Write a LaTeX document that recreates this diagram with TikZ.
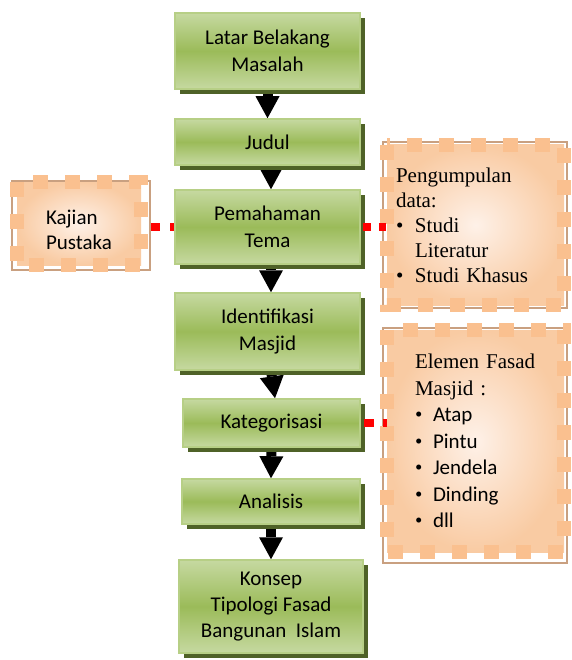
\documentclass[tikz,border=0pt]{standalone}
\usepackage{fontspec}
\setmainfont{Liberation Serif}
\newfontfamily\calib{Carlito}
\usetikzlibrary{arrows.meta,shadows,backgrounds}
\definecolor{gtop}{HTML}{C6D9A1}
\definecolor{gmid}{HTML}{9BBB59}
\definecolor{gline}{HTML}{B7CF86}
\definecolor{gshadow}{HTML}{4F6228}
\definecolor{odashc}{HTML}{FAC08F}
\definecolor{oin}{HTML}{FEF1E8}
\definecolor{oout}{HTML}{F9CBA3}
\definecolor{obrown}{HTML}{C9A080}
\begin{document}
\begin{tikzpicture}[x=1pt,y=-1pt,
  gbox/.style={rectangle, inner sep=0pt, draw=gline, line width=1.5pt,
    top color=gtop, bottom color=gtop, middle color=gmid,
    drop shadow={shadow xshift=5pt, shadow yshift=-5pt, fill=gshadow, opacity=1},
    align=center, font=\calib\fontsize{21pt}{27pt}\selectfont},
  obox/.style={rectangle, inner ysep=0pt, inner color=oin, outer color=oout, align=left},
  obrownline/.style={draw=obrown, line width=2.5pt},
  odashline/.style={draw=odashc, line width=14pt, dash pattern=on 15pt off 17pt},
  blk/.style={line width=10pt, -{Triangle[length=22pt,width=24pt,line width=0pt]}},
  redc/.style={draw=red, line width=8pt}
]
\useasboundingbox (0,0) rectangle (571,660);

% orange boxes
\node[obox, minimum width=124pt, minimum height=83pt, inner xsep=0pt,
  font=\calib\fontsize{21pt}{25pt}\selectfont] (kp) at (79,223.5)
  {\raisebox{-14pt}[0pt][0pt]{\begin{tabular}{@{}l@{}}Kajian\\Pustaka\end{tabular}}};
\draw[obrownline] ([xshift=-5pt,yshift=1pt]kp.north west) rectangle ([xshift=9pt,yshift=-5pt]kp.south east);
\draw[odashline] (kp.north west) rectangle (kp.south east);

\node[obox, minimum width=177pt, minimum height=160pt, inner xsep=9pt, text width=159pt,
  font=\fontsize{21pt}{25pt}\selectfont] (pd) at (475.5,225)
  {Pengumpulan\\data:\\\makebox[19pt][l]{\textbullet}Studi\\\hspace*{19pt}Literatur\\\makebox[19pt][l]{\textbullet}Studi Khasus};
\draw[obrownline] ([xshift=-4pt,yshift=3pt]pd.north west) rectangle ([xshift=3pt,yshift=-3pt]pd.south east);
\draw[odashline] (pd.north west) rectangle (pd.south east);

\node[obox, minimum width=177pt, minimum height=222pt, inner xsep=28pt, text width=121pt,
  font=\fontsize{21pt}{26.5pt}\selectfont] (ef) at (475.5,441)
  {Elemen Fasad\\Masjid :\\
   \makebox[18pt][l]{\textbullet}{\calib Atap}\\
   \makebox[18pt][l]{\textbullet}{\calib Pintu}\\
   \makebox[18pt][l]{\textbullet}{\calib Jendela}\\
   \makebox[18pt][l]{\textbullet}{\calib Dinding}\\
   \makebox[18pt][l]{\textbullet}{\calib dll}};
\draw[obrownline] ([xshift=-4pt,yshift=2pt]ef.north west) rectangle ([xshift=3pt,yshift=-11pt]ef.south east);
\draw[odashline] (ef.north west) rectangle (ef.south east);

% green boxes
\node[gbox, minimum width=185pt, minimum height=76pt] (b1) at (267.5,51) {Latar Belakang\\Masalah};
\node[gbox, minimum width=185pt, minimum height=46pt] (b2) at (267.5,142) {Judul};
\node[gbox, minimum width=185pt, minimum height=74pt] (b3) at (267.5,227) {Pemahaman\\Tema};
\node[gbox, minimum width=185pt, minimum height=77pt] (b4) at (267.5,331.5) {Identifikasi\\Masjid};
\node[gbox, minimum width=177pt, minimum height=48pt] (b5) at (271.5,423) {Kategorisasi};
\node[gbox, minimum width=178pt, minimum height=45pt] (b6) at (271,501.5) {Analisis};
\node[gbox, minimum width=184pt, minimum height=93pt, font=\calib\fontsize{21pt}{26pt}\selectfont] (b7) at (271,606.5) {Konsep\\Tipologi Fasad\\Bangunan~ Islam};

% arrows and hidden connector parts
\begin{pgfonlayer}{background}
\draw[blk] (b1.south) -- (b2.north);
\draw[blk] ([xshift=3.5pt]b2.south) -- ([xshift=3.5pt]b3.north);
\draw[blk] ([xshift=3.5pt]b3.south) -- ([xshift=3.5pt]b4.north);
\draw[blk] ([xshift=3.5pt]b4.south) -- ([xshift=3.5pt]b5.north);
\draw[blk] (b5.south) -- (b6.north);
\draw[blk] (b6.south) -- (b7.north);
\draw[redc, dash pattern=on 9pt off 10pt, shorten <=10pt] (kp.east |- b3.west) -- (b3.west);
\end{pgfonlayer}

% red dotted connectors
\draw[redc, dash pattern=on 8pt off 8pt, shorten <=2pt, shorten >=1pt] (b3.east) -- (pd.west |- b3.east);
\draw[redc, dash pattern=on 10pt off 9pt, shorten <=3pt] (b5.east) -- (ef.west |- b5.east);
\end{tikzpicture}
\end{document}
